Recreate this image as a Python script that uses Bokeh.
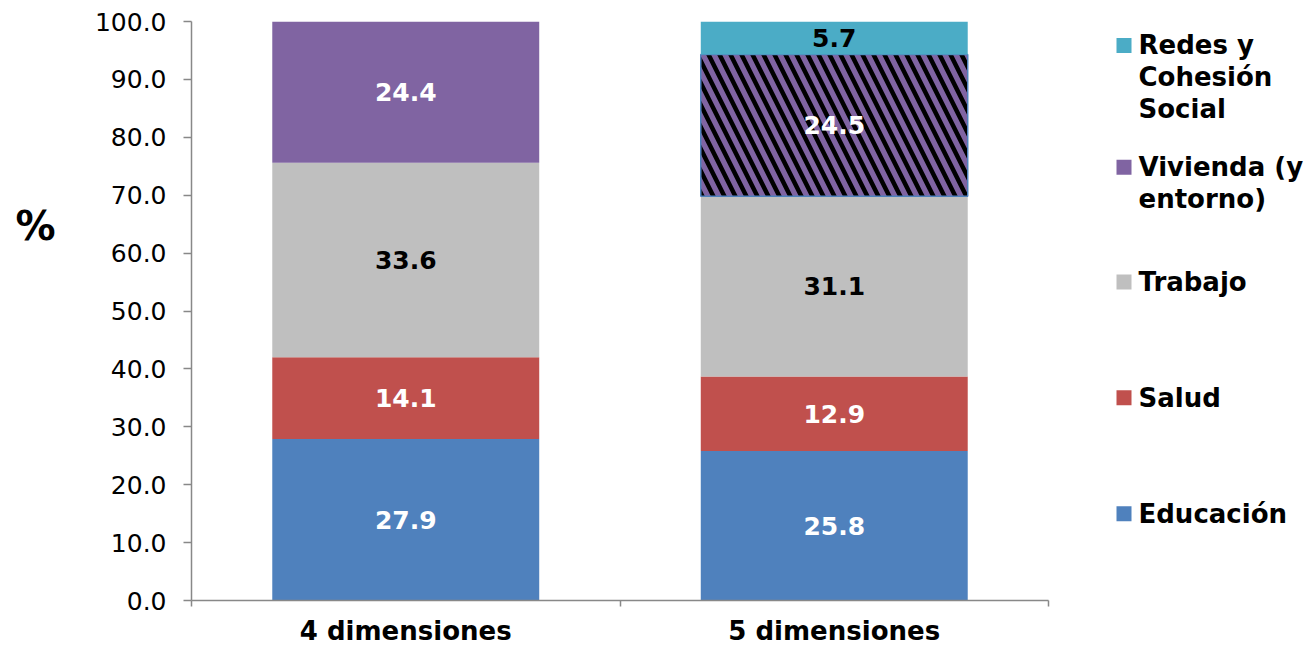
import numpy as np
from bokeh.plotting import figure
from bokeh.layouts import row
from bokeh.models import ColumnDataSource, Range1d, FixedTicker, NumeralTickFormatter
from bokeh.core.properties import value
from bokeh.embed import file_html
from bokeh.resources import INLINE

# ---------------- data ----------------
categories = ["4 dimensiones", "5 dimensiones"]
series_names = ["Educación", "Salud", "Trabajo", "Vivienda (y entorno)", "Redes y Cohesión Social"]
educacion = [27.9, 25.8]
salud = [14.1, 12.9]
trabajo = [33.6, 31.1]
vivienda = [24.4, 24.5]
redes = [0.0, 5.7]
y_ticks = [0, 10, 20, 30, 40, 50, 60, 70, 80, 90, 100]
y_axis_title = "%"
legend_lines = [["Redes y", "Cohesión", "Social"], ["Vivienda (y", "entorno)"], ["Trabajo"], ["Salud"], ["Educación"]]

# ---------------- styles ----------------
colors = ["#4F81BD", "#C0504D", "#BFBFBF", "#8064A2", "#4BACC6"]
label_colors = ["white", "white", "black", "white", "black"]
hatched = [[False, False], [False, False], [False, False], [False, True], [False, False]]
FONT = "DejaVu Sans"
AXIS_COLOR = "#888888"
H = 648
FRAME_TOP, FRAME_BOTTOM = 21, 601   # page pixel rows of the plot frame

series = [educacion, salud, trabajo, vivienda, redes]
xs = np.arange(len(categories)) + 0.5

# ---------------- left panel with the "%" title ----------------
PW = 70
pct = figure(width=PW, height=H, x_range=Range1d(0, PW), y_range=Range1d(FRAME_BOTTOM, FRAME_TOP),
             toolbar_location=None, output_backend="svg", min_border=0,
             x_axis_location=None, y_axis_location=None)
pct.outline_line_color = None
pct.grid.visible = False
pct.text(x=[35], y=[226], text=[y_axis_title], text_align="center", text_baseline="middle",
         text_color="black", text_font=value(FONT), text_font_style="bold", text_font_size="40px")

# ---------------- main chart ----------------
p = figure(width=1038, height=H, x_range=Range1d(0, len(categories)), y_range=Range1d(0, 100),
           toolbar_location=None, output_backend="svg",
           min_border_left=191 - PW, min_border_right=60, min_border_top=FRAME_TOP,
           min_border_bottom=H - FRAME_BOTTOM)
p.outline_line_color = None
p.grid.visible = False

bottom = np.zeros(len(categories))
for k, vals in enumerate(series):
    vals = np.array(vals, dtype=float)
    top = bottom + vals
    src = ColumnDataSource(dict(
        x=xs, bottom=bottom, top=top,
        hatch=["left_diagonal_line" if h else " " for h in hatched[k]],
        lc=["#4F81BD" if h else None for h in hatched[k]],
        lw=[1.5 if h else 0 for h in hatched[k]],
    ))
    p.vbar(x="x", bottom="bottom", top="top", width=0.623, source=src,
           fill_color=colors[k], line_color="lc", line_width="lw",
           hatch_pattern="hatch", hatch_color="black", hatch_scale=22, hatch_weight=4.5)
    mask = vals > 0
    lsrc = ColumnDataSource(dict(
        x=xs[mask], y=((bottom + top) / 2)[mask],
        t=[f"{v:.1f}" for v in vals[mask]],
    ))
    p.text(x="x", y="y", text="t", source=lsrc, text_align="center", text_baseline="middle",
           text_color=label_colors[k], text_font=value(FONT), text_font_style="bold",
           text_font_size="25px")
    bottom = top

# y axis
ya = p.yaxis[0]
ya.ticker = FixedTicker(ticks=y_ticks)
ya.formatter = NumeralTickFormatter(format="0.0")
ya.major_label_text_font = FONT
ya.major_label_text_font_size = "25px"
ya.major_label_text_color = "black"
ya.major_tick_out = 8
ya.major_tick_in = 0
ya.minor_tick_out = 0
ya.minor_tick_in = 0
ya.major_label_standoff = 17
ya.axis_line_color = AXIS_COLOR
ya.axis_line_width = 1.5
ya.major_tick_line_color = AXIS_COLOR
ya.major_tick_line_width = 1.5

# x axis
xa = p.xaxis[0]
xa.ticker = FixedTicker(ticks=list(xs), minor_ticks=list(range(len(categories) + 1)))
xa.major_label_overrides = {float(x): c for x, c in zip(xs, categories)}
xa.major_label_text_font = FONT
xa.major_label_text_font_style = "bold"
xa.major_label_text_font_size = "26px"
xa.major_label_text_color = "black"
xa.major_tick_out = 0
xa.major_tick_in = 0
xa.minor_tick_out = 6
xa.minor_tick_in = 0
xa.minor_tick_line_color = AXIS_COLOR
xa.minor_tick_line_width = 1.5
xa.major_label_standoff = 9
xa.axis_line_color = AXIS_COLOR
xa.axis_line_width = 1.5

# ---------------- legend panel ----------------
LW = 200
leg = figure(width=LW, height=H, x_range=Range1d(0, LW), y_range=Range1d(FRAME_BOTTOM, FRAME_TOP),
             toolbar_location=None, output_backend="svg", min_border=0,
             x_axis_location=None, y_axis_location=None)
leg.outline_line_color = None
leg.grid.visible = False
legend_order = [4, 3, 2, 1, 0]
legend_y0 = [45, 167, 282, 398, 514]
for idx, k in enumerate(legend_order):
    y0 = legend_y0[idx]
    leg.rect(x=[15.5], y=[y0], width=15, height=15, fill_color=colors[k], line_color=None)
    lines = legend_lines[idx]
    leg.text(x=[30] * len(lines), y=[y0 + 32 * i for i in range(len(lines))], text=lines,
             text_align="left", text_baseline="middle", text_color="black",
             text_font=value(FONT), text_font_style="bold", text_font_size="26px")

layout = row(pct, p, leg)
open("out.html", "w").write(file_html(layout, INLINE))
